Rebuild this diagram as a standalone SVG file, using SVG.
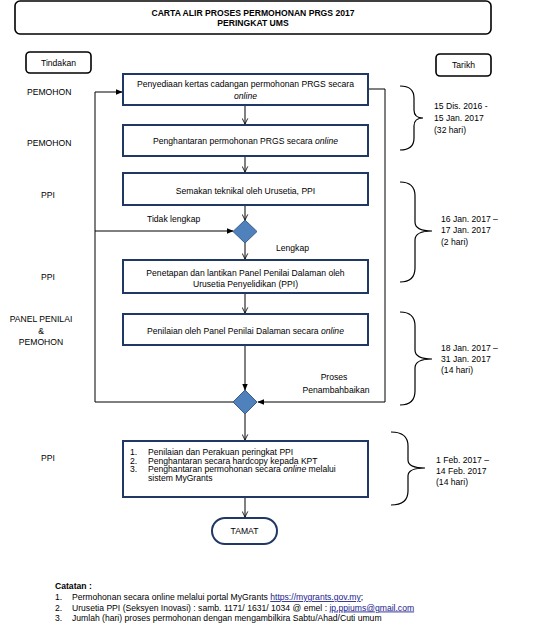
<svg xmlns="http://www.w3.org/2000/svg" width="550" height="631" viewBox="0 0 550 631">
<defs>
<marker id="open" viewBox="0 0 10 10" refX="9" refY="5" markerWidth="7" markerHeight="7" orient="auto" markerUnits="userSpaceOnUse"><path d="M1,1 L9,5 L1,9" fill="none" stroke="#000" stroke-width="1.2"/></marker>
<marker id="fill" viewBox="0 0 10 10" refX="9" refY="5" markerWidth="7" markerHeight="7" orient="auto" markerUnits="userSpaceOnUse"><path d="M0,1 L10,5 L0,9 Z" fill="#000"/></marker>
<style>
text{font-family:"Liberation Sans",Arial,sans-serif;font-size:8.6px;fill:#000}
.t{font-weight:bold;font-size:8.6px}
.c{text-anchor:middle}
.box{fill:#fff;stroke:#1f3864;stroke-width:2}
.hdr{fill:#fff;stroke:#000;stroke-width:1.6}
.dia{fill:#4f81bd;stroke:#385d8a;stroke-width:1}
.ln{fill:none;stroke:#000;stroke-width:1}
.br{fill:none;stroke:#000;stroke-width:1.2}
.lnk{fill:#1a1a8c;text-decoration:underline}
</style>
</defs>
<rect width="550" height="631" fill="#fff"/>
<g id="title"><rect class="hdr" x="15" y="1" width="476" height="33" rx="5"/><text class="t c" x="253" y="16">CARTA ALIR PROSES PERMOHONAN PRGS 2017</text><text class="t c" x="253" y="26">PERINGKAT UMS</text></g>
<g id="tindakan"><rect class="hdr" x="26" y="52" width="65" height="21" rx="4"/><text class="c" x="58.5" y="66">Tindakan</text></g>
<g id="tarikh"><rect class="hdr" x="436" y="54" width="55" height="22" rx="4"/><text class="c" x="463.5" y="68">Tarikh</text></g>
<g id="labels">
<text x="27" y="95">PEMOHON</text>
<text x="27" y="146">PEMOHON</text>
<text class="c" x="48" y="198">PPI</text>
<text class="c" x="48" y="280">PPI</text>
<text class="c" x="41" y="322">PANEL PENILAI</text>
<text class="c" x="41" y="334">&amp;</text>
<text class="c" x="41" y="345">PEMOHON</text>
<text class="c" x="48" y="461">PPI</text>
</g>
<g id="connectors">
<line class="ln" x1="245" y1="105" x2="245" y2="124" marker-end="url(#open)"/>
<line class="ln" x1="245" y1="156" x2="245" y2="172" marker-end="url(#open)"/>
<line class="ln" x1="245" y1="205" x2="245" y2="220" marker-end="url(#open)"/>
<line class="ln" x1="245" y1="243" x2="245" y2="259" marker-end="url(#open)"/>
<line class="ln" x1="245" y1="293" x2="245" y2="313" marker-end="url(#open)"/>
<line class="ln" x1="245" y1="345" x2="245" y2="390" marker-end="url(#fill)"/>
<line class="ln" x1="245" y1="414" x2="245" y2="440" marker-end="url(#open)"/>
<line class="ln" x1="245" y1="497" x2="245" y2="517" marker-end="url(#open)"/>
<polyline class="ln" points="233,402 95,402 95,92 122,92" marker-end="url(#fill)"/>
<line class="ln" x1="95" y1="231" x2="233" y2="231" marker-end="url(#fill)"/>
<polyline class="ln" points="368,89 385,89 385,402 258,402" marker-end="url(#fill)"/>
</g>
<g id="box1"><rect class="box" x="123" y="74" width="245" height="31"/><text class="c" x="245.5" y="87">Penyediaan kertas cadangan permohonan PRGS secara</text><text class="c" x="245.5" y="99" font-style="italic">online</text></g>
<g id="box2"><rect class="box" x="123" y="125" width="245" height="31"/><text class="c" x="245.5" y="144">Penghantaran permohonan PRGS secara <tspan font-style="italic">online</tspan></text></g>
<g id="box3"><rect class="box" x="123" y="173" width="245" height="32"/><text class="c" x="245.5" y="194">Semakan teknikal oleh Urusetia, PPI</text></g>
<g id="dec1"><polygon class="dia" points="245,220 257,231.5 245,243 233,231.5"/></g>
<text x="147" y="222">Tidak lengkap</text>
<text x="276" y="251">Lengkap</text>
<g id="box4"><rect class="box" x="123" y="260" width="245" height="33"/><text class="c" x="245.5" y="276">Penetapan dan lantikan Panel Penilai Dalaman oleh</text><text class="c" x="245.5" y="287">Urusetia Penyelidikan (PPI)</text></g>
<g id="box5"><rect class="box" x="123" y="314" width="245" height="31"/><text class="c" x="245.5" y="334">Penilaian oleh Panel Penilai Dalaman secara <tspan font-style="italic">online</tspan></text></g>
<g id="dec2"><polygon class="dia" points="245,390 257,402 245,414 233,402"/></g>
<text class="c" x="334" y="380">Proses</text>
<text class="c" x="336" y="393">Penambahbaikan</text>
<g id="box6"><rect class="box" x="123" y="441" width="245" height="56"/>
<text x="130" y="455">1.</text><text x="148" y="455">Penilaian dan Perakuan peringkat PPI</text>
<text x="130" y="463.5">2.</text><text x="148" y="463.5">Penghantaran secara hardcopy kepada KPT</text>
<text x="130" y="472">3.</text><text x="148" y="472">Penghantaran permohonan secara <tspan font-style="italic">online</tspan> melalui</text>
<text x="148" y="480.5">sistem  MyGrants</text></g>
<g id="tamat"><rect class="box" x="212" y="518" width="65" height="26" rx="13"/><text class="c" x="244.5" y="534">TAMAT</text></g>
<g id="braces">
<path class="br" d="M400,86 Q414,86 414,98 L414,110 Q414,118 423,118 Q414,118 414,126 L414,138 Q414,150 400,150"/>
<path class="br" d="M400,182 Q415,182 415,196 L415,222 Q415,231 432,231 Q415,231 415,240 L415,268 Q415,282 400,282"/>
<path class="br" d="M400,312 Q415,312 415,326 L415,350 Q415,359 432,359 Q415,359 415,368 L415,391 Q415,405 400,405"/>
<path class="br" d="M391,432 Q408,432 408,446 L408,460 Q408,468 425,468 Q408,468 408,476 L408,491 Q408,505 391,505"/>
</g>
<g id="dates">
<text x="434" y="109">15 Dis. 2016  -</text><text x="434" y="121">15 Jan. 2017</text><text x="434" y="133">(32 hari)</text>
<text x="441" y="222">16 Jan. 2017 –</text><text x="441" y="233">17 Jan. 2017</text><text x="441" y="245">(2 hari)</text>
<text x="441" y="351">18 Jan. 2017 –</text><text x="441" y="362">31 Jan. 2017</text><text x="441" y="373">(14 hari)</text>
<text x="436" y="463">1 Feb. 2017 –</text><text x="436" y="474">14 Feb. 2017</text><text x="436" y="485">(14 hari)</text>
</g>
<g id="notes">
<text x="55" y="589" font-weight="bold">Catatan :</text>
<text x="55" y="600">1.</text><text x="72" y="600">Permohonan secara online melalui portal MyGrants <tspan class="lnk">https://mygrants.gov.my</tspan>;</text>
<text x="55" y="610.5">2.</text><text x="72" y="610.5">Urusetia PPI (Seksyen Inovasi) : samb. 1171/ 1631/ 1034 @ emel : <tspan class="lnk">ip.ppiums@gmail.com</tspan></text>
<text x="55" y="621">3.</text><text x="72" y="621">Jumlah (hari) proses permohonan dengan mengambilkira Sabtu/Ahad/Cuti umum</text>
</g>
</svg>
